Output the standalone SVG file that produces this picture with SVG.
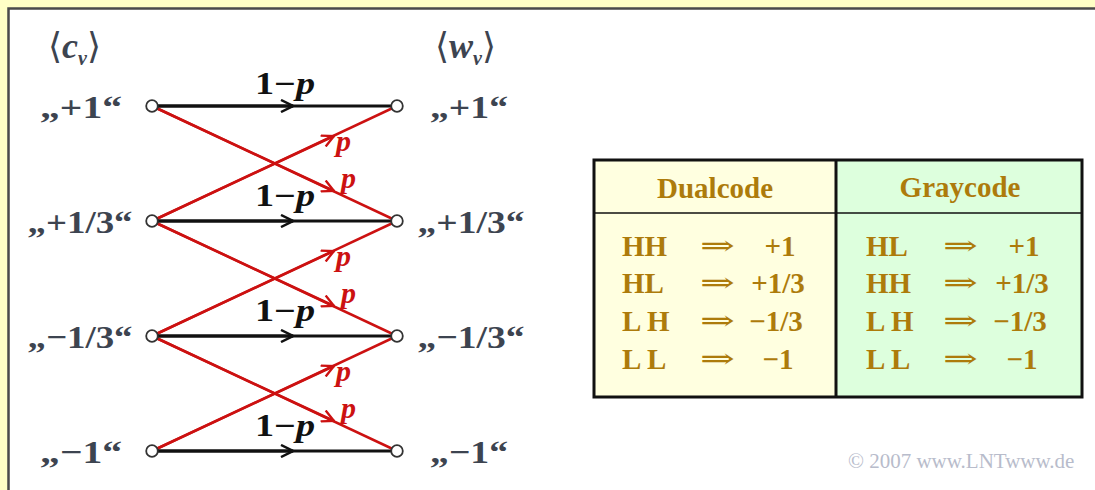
<svg xmlns="http://www.w3.org/2000/svg" width="1095" height="490" viewBox="0 0 1095 490">
<style>
.lbl{font-family:"Liberation Serif","DejaVu Serif",serif;font-weight:bold;font-size:32px;fill:#3d4450;text-anchor:middle}
.hd{font-family:"Liberation Serif","DejaVu Serif",serif;font-size:36px;fill:#3d4450}
.blk{stroke:#111;stroke-width:2.8;fill:none}
.red{stroke:#cc1111;stroke-width:2.5;fill:none}
.node{fill:#fff;stroke:#333;stroke-width:1.8}
.q{font-family:"Liberation Serif",serif;font-weight:bold;font-size:31px;fill:#111;text-anchor:middle}
.p{font-family:"Liberation Serif",serif;font-weight:bold;font-style:italic;font-size:30px;fill:#cc1111}
.tb{font-family:"Liberation Serif","DejaVu Serif",serif;font-weight:bold;font-size:29px;fill:#ad7b0b}
.ar{font-family:"DejaVu Serif",serif;font-size:28px;fill:#ad7b0b}
.th{font-family:"Liberation Serif",serif;font-weight:bold;font-size:29px;fill:#ad7b0b;text-anchor:middle}
.cp{font-family:"Liberation Serif",serif;font-size:21px;fill:#b8bccb}
</style>
<defs>
<marker id="ab" viewBox="0 0 14 14" refX="13" refY="7" markerWidth="14" markerHeight="14" markerUnits="userSpaceOnUse" orient="auto">
<path d="M1,1 L13,7 L1,13" fill="none" stroke="#111" stroke-width="2.5"/>
</marker>
<marker id="ar" viewBox="0 0 14 14" refX="13" refY="7" markerWidth="14" markerHeight="14" markerUnits="userSpaceOnUse" orient="auto">
<path d="M1,1 L13,7 L1,13" fill="none" stroke="#cc1111" stroke-width="2.3"/>
</marker>
</defs>
<rect x="0" y="0" width="1095" height="490" fill="#ffffc6"/>
<rect x="8.5" y="8.5" width="1100" height="500" fill="#fff" stroke="#4a4a4a" stroke-width="2.5"/>

<g id="headers">
<text class="hd" x="48" y="58">⟨<tspan font-style="italic" font-weight="bold">c</tspan><tspan font-style="italic" font-weight="bold" font-size="20" dy="7">v</tspan><tspan dy="-7">⟩</tspan></text>
<text class="hd" x="435" y="58">⟨<tspan font-style="italic" font-weight="bold">w</tspan><tspan font-style="italic" font-weight="bold" font-size="20" dy="7">v</tspan><tspan dy="-7">⟩</tspan></text>
</g>

<g id="connectors">
<line class="red" x1="152" y1="106" x2="397" y2="221"/>
<line class="red" x1="152" y1="106" x2="334" y2="191" marker-end="url(#ar)"/>
<line class="red" x1="152" y1="221" x2="397" y2="106"/>
<line class="red" x1="152" y1="221" x2="334" y2="136" marker-end="url(#ar)"/>
<line class="red" x1="152" y1="221" x2="397" y2="336"/>
<line class="red" x1="152" y1="221" x2="334" y2="306" marker-end="url(#ar)"/>
<line class="red" x1="152" y1="336" x2="397" y2="221"/>
<line class="red" x1="152" y1="336" x2="334" y2="251" marker-end="url(#ar)"/>
<line class="red" x1="152" y1="336" x2="397" y2="451"/>
<line class="red" x1="152" y1="336" x2="334" y2="421" marker-end="url(#ar)"/>
<line class="red" x1="152" y1="451" x2="397" y2="336"/>
<line class="red" x1="152" y1="451" x2="334" y2="366" marker-end="url(#ar)"/>
<line class="blk" x1="152" y1="106" x2="397" y2="106"/>
<line class="blk" x1="152" y1="106" x2="293" y2="106" marker-end="url(#ab)"/>
<line class="blk" x1="152" y1="221" x2="397" y2="221"/>
<line class="blk" x1="152" y1="221" x2="293" y2="221" marker-end="url(#ab)"/>
<line class="blk" x1="152" y1="336" x2="397" y2="336"/>
<line class="blk" x1="152" y1="336" x2="293" y2="336" marker-end="url(#ab)"/>
<line class="blk" x1="152" y1="451" x2="397" y2="451"/>
<line class="blk" x1="152" y1="451" x2="293" y2="451" marker-end="url(#ab)"/>
<text class="q" x="285" y="94" textLength="60" lengthAdjust="spacingAndGlyphs">1−<tspan font-style="italic">p</tspan></text>
<text class="q" x="285" y="206" textLength="60" lengthAdjust="spacingAndGlyphs">1−<tspan font-style="italic">p</tspan></text>
<text class="q" x="285" y="321" textLength="60" lengthAdjust="spacingAndGlyphs">1−<tspan font-style="italic">p</tspan></text>
<text class="q" x="285" y="436" textLength="60" lengthAdjust="spacingAndGlyphs">1−<tspan font-style="italic">p</tspan></text>
<text class="p" x="336" y="151">p</text>
<text class="p" x="341" y="188">p</text>
<text class="p" x="336" y="266">p</text>
<text class="p" x="341" y="303">p</text>
<text class="p" x="336" y="381">p</text>
<text class="p" x="341" y="418">p</text>
</g>

<g id="n-left-p1"><circle class="node" cx="152" cy="106" r="5.8"/><text class="lbl" x="81" y="118" textLength="82" lengthAdjust="spacingAndGlyphs">„+1“</text></g>
<g id="n-left-p13"><circle class="node" cx="152" cy="221" r="5.8"/><text class="lbl" x="80" y="233" textLength="105" lengthAdjust="spacingAndGlyphs">„+1/3“</text></g>
<g id="n-left-m13"><circle class="node" cx="152" cy="336" r="5.8"/><text class="lbl" x="80" y="348" textLength="105" lengthAdjust="spacingAndGlyphs">„−1/3“</text></g>
<g id="n-left-m1"><circle class="node" cx="152" cy="451" r="5.8"/><text class="lbl" x="81" y="463" textLength="82" lengthAdjust="spacingAndGlyphs">„−1“</text></g>
<g id="n-right-p1"><circle class="node" cx="397" cy="106" r="5.8"/><text class="lbl" x="469" y="118" textLength="78" lengthAdjust="spacingAndGlyphs">„+1“</text></g>
<g id="n-right-p13"><circle class="node" cx="397" cy="221" r="5.8"/><text class="lbl" x="471" y="233" textLength="107" lengthAdjust="spacingAndGlyphs">„+1/3“</text></g>
<g id="n-right-m13"><circle class="node" cx="397" cy="336" r="5.8"/><text class="lbl" x="471" y="348" textLength="107" lengthAdjust="spacingAndGlyphs">„−1/3“</text></g>
<g id="n-right-m1"><circle class="node" cx="397" cy="451" r="5.8"/><text class="lbl" x="469" y="463" textLength="78" lengthAdjust="spacingAndGlyphs">„−1“</text></g>

<g id="table">
<rect x="594" y="160" width="242" height="237" fill="#ffffe0"/>
<rect x="836" y="160" width="246" height="237" fill="#ddffdd"/>
<line x1="594" y1="213" x2="1082" y2="213" stroke="#111" stroke-width="1.5"/>
<line x1="836" y1="160" x2="836" y2="397" stroke="#111" stroke-width="3"/>
<rect x="594" y="160" width="488" height="237" fill="none" stroke="#111" stroke-width="3"/>
<text class="th" x="715" y="198">Dualcode</text>
<text class="th" x="960" y="197">Graycode</text>
<text class="tb" x="622" y="256">HH</text><text class="ar" x="700" y="255" textLength="35" lengthAdjust="spacingAndGlyphs">⇒</text><text class="tb" x="780" y="256" text-anchor="middle">+1</text>
<text class="tb" x="622" y="293">HL</text><text class="ar" x="700" y="292" textLength="35" lengthAdjust="spacingAndGlyphs">⇒</text><text class="tb" x="778" y="293" text-anchor="middle">+1/3</text>
<text class="tb" x="622" y="331">L H</text><text class="ar" x="700" y="330" textLength="35" lengthAdjust="spacingAndGlyphs">⇒</text><text class="tb" x="776" y="331" text-anchor="middle">−1/3</text>
<text class="tb" x="622" y="369">L L</text><text class="ar" x="700" y="368" textLength="35" lengthAdjust="spacingAndGlyphs">⇒</text><text class="tb" x="778" y="369" text-anchor="middle">−1</text>
<text class="tb" x="866" y="256">HL</text><text class="ar" x="943" y="255" textLength="35" lengthAdjust="spacingAndGlyphs">⇒</text><text class="tb" x="1024" y="256" text-anchor="middle">+1</text>
<text class="tb" x="866" y="293">HH</text><text class="ar" x="943" y="292" textLength="35" lengthAdjust="spacingAndGlyphs">⇒</text><text class="tb" x="1022" y="293" text-anchor="middle">+1/3</text>
<text class="tb" x="866" y="331">L H</text><text class="ar" x="943" y="330" textLength="35" lengthAdjust="spacingAndGlyphs">⇒</text><text class="tb" x="1020" y="331" text-anchor="middle">−1/3</text>
<text class="tb" x="866" y="369">L L</text><text class="ar" x="943" y="368" textLength="35" lengthAdjust="spacingAndGlyphs">⇒</text><text class="tb" x="1022" y="369" text-anchor="middle">−1</text>
</g>

<text class="cp" x="848" y="468">© 2007 www.LNTwww.de</text>
</svg>
